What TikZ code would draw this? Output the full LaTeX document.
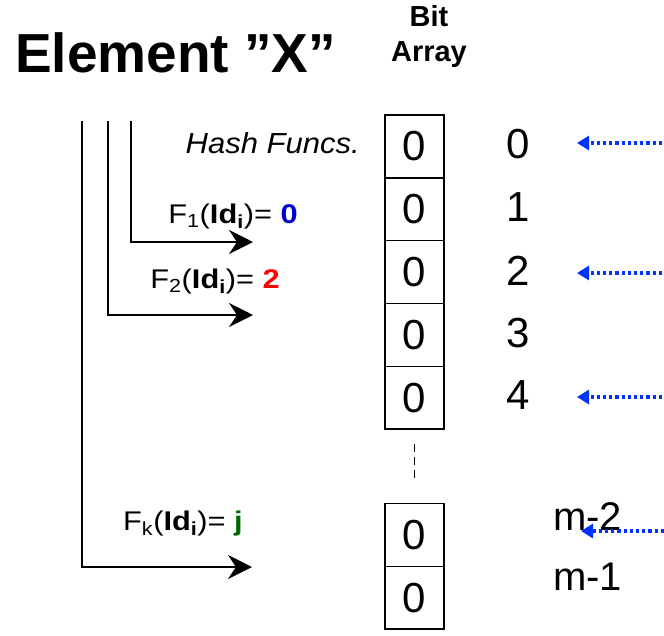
\documentclass[tikz,border=0pt]{standalone}
\usepackage{fontspec}
\setmainfont{Liberation Sans}
\usetikzlibrary{arrows.meta}
\definecolor{valblue}{RGB}{0,0,204}
\definecolor{valred}{RGB}{255,0,0}
\definecolor{valgreen}{RGB}{0,102,0}
\definecolor{ptrblue}{RGB}{0,51,255}
\begin{document}
\begin{tikzpicture}[x=1pt,y=-1pt,
  cell/.style={draw,line width=1.5pt,minimum width=59pt,minimum height=62.8pt,inner sep=0pt,font=\fontsize{42}{42}\selectfont},
  idx/.style={inner sep=0pt,font=\fontsize{42}{42}\selectfont},
  flabel/.style={inner sep=0pt,anchor=base east,xscale=1.14,font=\fontsize{27}{27}\selectfont},
  hasharrow/.style={line width=1.5pt,-{Stealth[length=24pt,width=24pt,inset=8pt]}},
  ptr/.style={ptrblue,line width=3.2pt,dash pattern=on 3.2pt off 3pt,-{Triangle[length=12pt,width=14pt]}},
]
\path[use as bounding box] (0,0) rectangle (664,635);
% titles
\node[inner sep=0pt,anchor=base west,font=\fontsize{55}{55}\selectfont\bfseries] (title) at (15,72) {Element ”X”};
\node[inner sep=0pt,anchor=base,font=\fontsize{29}{29}\selectfont\bfseries] (bit) at (429,26) {Bit};
\node[inner sep=0pt,anchor=base,font=\fontsize{29}{29}\selectfont\bfseries] (array) at (429,61) {Array};
\node[inner sep=0pt,anchor=base east,xscale=1.07,font=\fontsize{29}{29}\selectfont\itshape] (hash) at (360,153) {Hash Funcs.};
% cells
\node[cell] (c0) at (414.5,146.5) {0};
\node[cell] (c1) at (414.5,209.3) {0};
\node[cell] (c2) at (414.5,272.1) {0};
\node[cell] (c3) at (414.5,334.9) {0};
\node[cell] (c4) at (414.5,397.7) {0};
\node[cell] (cm2) at (414.5,535) {0};
\node[cell] (cm1) at (414.5,597.8) {0};
\draw[line width=1.5pt,dash pattern=on 8pt off 5pt] (c4.south) ++(0,14) coordinate (d0) -- ++(0,35) coordinate (d1);
% indices
\node[idx] (i0) at (518,144) {0};
\node[idx] (i1) at (518,207) {1};
\node[idx] (i2) at (518,271) {2};
\node[idx] (i3) at (518,333) {3};
\node[idx] (i4) at (518,395) {4};
\node[idx,anchor=west,font=\fontsize{40}{40}\selectfont] (im2) at (553,517) {m-2};
\node[idx,anchor=west,font=\fontsize{40}{40}\selectfont] (im1) at (553,577) {m-1};
% pointers
\coordinate (p0s) at (662,143); \coordinate (p0e) at (577,143);
\coordinate (p2s) at (662,273); \coordinate (p2e) at (577,273);
\coordinate (p4s) at (662,397); \coordinate (p4e) at (577,397);
\coordinate (pms) at (664,531); \coordinate (pme) at (581,531);
\draw[ptr] (p0s) -- (p0e);
\draw[ptr] (p2s) -- (p2e);
\draw[ptr] (p4s) -- (p4e);
\draw[ptr] (pms) -- (pme);
% hash function lines
\coordinate (h1s) at (131,121); \coordinate (h1e) at (253,242);
\coordinate (h2s) at (108,121); \coordinate (h2e) at (253,315);
\coordinate (hks) at (82,121); \coordinate (hke) at (252,567);
\draw[hasharrow] (h1s) |- (h1e);
\draw[hasharrow] (h2s) |- (h2e);
\draw[hasharrow] (hks) |- (hke);
% labels
\node[flabel] (f1) at (298,223) {F\textsubscript{1}(\textbf{Id\textsubscript{i}})= \textcolor{valblue}{\textbf{0}}};
\node[flabel] (f2) at (280,288) {F\textsubscript{2}(\textbf{Id\textsubscript{i}})= \textcolor{valred}{\textbf{2}}};
\node[flabel] (fk) at (243,530) {F\textsubscript{k}(\textbf{Id\textsubscript{i}})= \textcolor{valgreen}{\textbf{j}}};
\end{tikzpicture}
\end{document}
